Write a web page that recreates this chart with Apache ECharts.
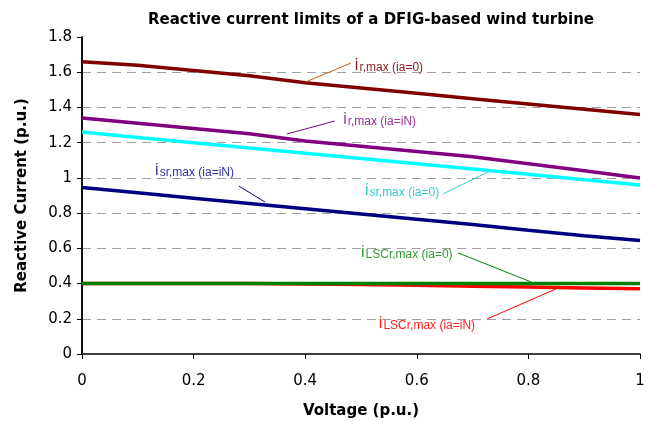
<!DOCTYPE html>
<html>
<head>
<meta charset="utf-8">
<script src="https://cdn.jsdelivr.net/npm/echarts@6/dist/echarts.min.js"></script>
<style>
  html, body { margin: 0; padding: 0; background: #fff; }
  #main { width: 665px; height: 428px; }
</style>
</head>
<body>
<div id="main"></div>
<script>
// voltage steps (p.u.)
const volts = [0, 0.1, 0.2, 0.3, 0.4, 0.5, 0.6, 0.7, 0.8, 0.9, 1.0];

// reactive current limits (p.u.)
const irMax0   = [1.66, 1.64, 1.61, 1.58, 1.54, 1.51, 1.48, 1.45, 1.42, 1.39, 1.36];
const irMaxN   = [1.34, 1.31, 1.28, 1.25, 1.21, 1.18, 1.15, 1.12, 1.08, 1.04, 1.00];
const isrMax0  = [1.26, 1.23, 1.20, 1.17, 1.14, 1.11, 1.08, 1.05, 1.02, 0.99, 0.96];
const isrMaxN  = [0.945, 0.915, 0.885, 0.855, 0.825, 0.795, 0.765, 0.735, 0.703, 0.672, 0.645];
const ilscMax0 = [0.40, 0.40, 0.40, 0.40, 0.40, 0.40, 0.40, 0.40, 0.40, 0.40, 0.40];
const ilscMaxN = [0.40, 0.40, 0.40, 0.40, 0.398, 0.395, 0.39, 0.385, 0.38, 0.375, 0.37];

const xTicks = [0, 0.2, 0.4, 0.6, 0.8, 1];
const yTicks = [0, 0.2, 0.4, 0.6, 0.8, 1, 1.2, 1.4, 1.6, 1.8];

// curve annotations: subscript, condition, label anchor, leader line ends (data coords)
const notes = [
  { sub: 'r,max',    cond: '(ia=0)',  at: [0.489, 1.636], from: [0.401, 1.545], to: [0.482, 1.652], color: '#8b1a1a', lead: '#c0601a' },
  { sub: 'r,max',    cond: '(ia=iN)', at: [0.468, 1.329], from: [0.367, 1.249], to: [0.453, 1.323], color: '#993399', lead: '#800080' },
  { sub: 'sr,max',   cond: '(ia=0)',  at: [0.507, 0.926], from: [0.647, 0.909], to: [0.731, 1.039], color: '#33cccc', lead: '#33cccc' },
  { sub: 'sr,max',   cond: '(ia=iN)', at: [0.131, 1.039], from: [0.281, 0.954], to: [0.328, 0.863], color: '#333399', lead: '#000080' },
  { sub: 'LSCr,max', cond: '(ia=0)',  at: [0.500, 0.574], from: [0.674, 0.574], to: [0.805, 0.409], color: '#339933', lead: '#008000' },
  { sub: 'LSCr,max', cond: '(ia=iN)', at: [0.532, 0.170], from: [0.726, 0.199], to: [0.849, 0.369], color: '#ff2020', lead: '#ff0000' }
];

const pairs = arr => volts.map((v, i) => [v, arr[i]]);

function curve(name, arr, color, width) {
  return {
    name: name,
    type: 'line',
    data: pairs(arr),
    symbol: 'none',
    lineStyle: { color: color, width: width },
    z: 3
  };
}

const series = [
  curve('ir0', irMax0, '#800000', 3.5),
  curve('irN', irMaxN, '#800080', 3.5),
  curve('isr0', isrMax0, '#00ffff', 3.5),
  curve('isrN', isrMaxN, '#000080', 3.5),
  curve('ilscN', ilscMaxN, '#ff0000', 3.5),
  curve('ilsc0', ilscMax0, '#008000', 3.5)
];

// annotation series: labels as markPoints, leader lines as markLines
series.push({
  type: 'line',
  data: [],
  silent: true,
  z: 5,
  markPoint: {
    symbol: 'circle',
    symbolSize: 0,
    data: notes.map(n => ({
      coord: n.at,
      label: {
        show: true,
        position: 'right',
        distance: 0,
        formatter: '{i|i}{s|' + n.sub + ' ' + n.cond + '}',
        rich: {
          i: { fontFamily: 'Liberation Sans', fontSize: 16, color: n.color, lineHeight: 16, verticalAlign: 'top' },
          s: { fontFamily: 'Liberation Sans', fontSize: 12, color: n.color, lineHeight: 12, verticalAlign: 'bottom', padding: [7, 0, 0, 1] }
        }
      }
    }))
  },
  markLine: {
    symbol: 'none',
    label: { show: false },
    data: notes.map(n => [
      { coord: n.from, lineStyle: { color: n.lead, width: 1, type: 'solid' } },
      { coord: n.to }
    ])
  }
});

const chart = echarts.init(document.getElementById('main'), null, { renderer: 'canvas' });

const axisFont = 'DejaVu Sans';

chart.setOption({
  animation: false,
  textStyle: { fontFamily: axisFont },
  title: {
    text: 'Reactive current limits of a DFIG-based wind turbine',
    left: 366,
    top: 8,
    textAlign: 'center',
    textStyle: { fontFamily: axisFont, fontSize: 15, fontWeight: 'bold', color: '#000' }
  },
  grid: { left: 82, right: 25, top: 37, bottom: 74 },
  xAxis: {
    type: 'value',
    min: xTicks[0],
    max: xTicks[xTicks.length - 1],
    interval: 0.2,
    name: 'Voltage (p.u.)',
    nameLocation: 'middle',
    nameGap: 50,
    nameTextStyle: { fontFamily: axisFont, fontSize: 15, fontWeight: 'bold', color: '#000' },
    axisLine: { onZero: false, lineStyle: { color: '#000', width: 1.5 } },
    axisTick: { show: true, length: 5, lineStyle: { color: '#000' } },
    axisLabel: { fontFamily: axisFont, fontSize: 15, color: '#000', margin: 20 },
    splitLine: { show: false }
  },
  yAxis: [{
    type: 'value',
    min: yTicks[0],
    max: yTicks[yTicks.length - 1],
    interval: 0.2,
    name: 'Reactive Current (p.u.)',
    nameLocation: 'middle',
    nameGap: 52,
    nameTextStyle: { fontFamily: axisFont, fontSize: 15, fontWeight: 'bold', color: '#000' },
    axisLine: { show: true, onZero: false, lineStyle: { color: '#000', width: 1.5 } },
    axisTick: { show: true, length: 5, lineStyle: { color: '#000' } },
    axisLabel: { fontFamily: axisFont, fontSize: 15, color: '#000', margin: 10 },
    splitLine: {
      show: true,
      showMinLine: false,
      showMaxLine: false,
      lineStyle: { color: '#a0a0a0', type: [9, 6], width: 1 }
    }
  }, {
    type: 'value',
    position: 'right',
    min: yTicks[0],
    max: yTicks[yTicks.length - 1],
    interval: 0.2,
    axisLine: { show: true, lineStyle: { color: '#000', width: 1.5 } },
    axisTick: { show: false },
    axisLabel: { show: false },
    splitLine: { show: false }
  }],
  series: series
});
</script>
</body>
</html>
